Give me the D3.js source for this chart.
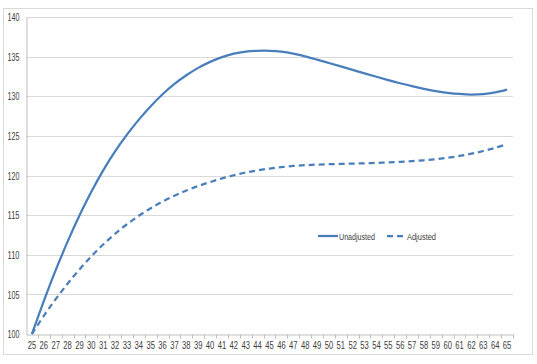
<!DOCTYPE html>
<html><head><meta charset="utf-8">
<script src="https://cdn.jsdelivr.net/npm/d3@7"></script>
<style>html,body{margin:0;padding:0;background:#fff;}svg{display:block;}</style>
</head><body><div id="chart"></div>
<script>
const ages = d3.range(25, 66).map(String);
const unadjusted = [100, 104.15, 108.05, 111.65, 114.95, 117.95, 120.65, 123.05, 125.15, 127.05,
  128.75, 130.25, 131.55, 132.65, 133.58, 134.34, 134.94, 135.39, 135.64, 135.74,
  135.74, 135.62, 135.37, 135.02, 134.62, 134.2, 133.77, 133.33, 132.89, 132.46,
  132.04, 131.64, 131.27, 130.94, 130.66, 130.44, 130.29, 130.22, 130.28, 130.48, 130.83];
const adjusted = [100, 102.3, 104.4, 106.35, 108.15, 109.8, 111.3, 112.65, 113.85, 114.92,
  115.87, 116.71, 117.45, 118.1, 118.67, 119.17, 119.63, 120.03, 120.37, 120.65,
  120.88, 121.06, 121.2, 121.3, 121.37, 121.42, 121.46, 121.5, 121.54, 121.59,
  121.65, 121.72, 121.81, 121.92, 122.06, 122.24, 122.47, 122.75, 123.09, 123.49, 123.96];
const yTicks = [100, 105, 110, 115, 120, 125, 130, 135, 140];
const seriesNames = ["Unadjusted", "Adjusted"];

const W = 537, H = 364;
const m = {left: 26, right: 24, top: 17, bottom: 30};
const color = "#4a7ebb";
const font = "'Liberation Sans',Arial,sans-serif";
const txt = "#404040";

const svg = d3.select("#chart").append("svg").attr("width", W).attr("height", H);
svg.append("rect").attr("x", 3.5).attr("y", 8.5).attr("width", 529).attr("height", 346)
  .attr("fill", "#fff").attr("stroke", "#d9d9d9");

const x = d3.scaleBand().domain(ages).range([m.left, W - m.right]);
const y = d3.scaleLinear().domain([100, 140]).range([H - m.bottom, m.top]);

// gridlines
svg.append("g").selectAll("line").data(yTicks.slice(1)).join("line")
  .attr("x1", m.left).attr("x2", W - m.right)
  .attr("y1", d => Math.round(y(d)) + 0.5).attr("y2", d => Math.round(y(d)) + 0.5)
  .attr("stroke", "#d9d9d9");

// y axis
const yAxis = svg.append("g").attr("transform", `translate(${m.left + 0.5},0.5)`)
  .call(d3.axisLeft(y).tickValues(yTicks).tickSize(0).tickPadding(7));
yAxis.select(".domain").attr("stroke", "#bfbfbf");
yAxis.selectAll("text").attr("font-family", font).attr("font-size", 10).attr("fill", txt)
  .attr("textLength", 12).attr("lengthAdjust", "spacingAndGlyphs");

// x axis
const xAxis = svg.append("g").attr("transform", `translate(0,${Math.round(y(100)) + 0.5})`)
  .call(d3.axisBottom(x).tickSize(0).tickPadding(7));
xAxis.select(".domain").attr("stroke", "#bfbfbf");
xAxis.selectAll("text").attr("font-family", font).attr("font-size", 10).attr("fill", txt)
  .attr("textLength", 8.5).attr("lengthAdjust", "spacingAndGlyphs");
xAxis.append("g").selectAll("line").data(ages.slice(1).concat(["end"])).join("line")
  .attr("x1", d => Math.round(d === "end" ? W - m.right : x(d)) + 0.5)
  .attr("x2", d => Math.round(d === "end" ? W - m.right : x(d)) + 0.5)
  .attr("y1", 0).attr("y2", 4).attr("stroke", "#bfbfbf");

const line = d3.line()
  .x((d, i) => x(ages[i]) + x.bandwidth() / 2)
  .y(d => y(d))
  .curve(d3.curveCatmullRom.alpha(0.5));

svg.append("path").datum(unadjusted).attr("d", line)
  .attr("fill", "none").attr("stroke", color).attr("stroke-width", 2.25);
svg.append("path").datum(adjusted).attr("d", line)
  .attr("fill", "none").attr("stroke", color).attr("stroke-width", 2.25)
  .attr("stroke-dasharray", "6,4");

// legend
const lg = svg.append("g").attr("transform", "translate(318,236)");
lg.append("line").attr("x1", 0).attr("x2", 20).attr("stroke", color).attr("stroke-width", 2.25);
lg.append("text").attr("x", 21).attr("y", 3.5).text(seriesNames[0])
  .attr("font-family", font).attr("font-size", 9).attr("fill", txt)
  .attr("textLength", 36).attr("lengthAdjust", "spacingAndGlyphs");
lg.append("line").attr("x1", 69).attr("x2", 87).attr("stroke", color).attr("stroke-width", 2.25)
  .attr("stroke-dasharray", "6,4");
lg.append("text").attr("x", 89).attr("y", 3.5).text(seriesNames[1])
  .attr("font-family", font).attr("font-size", 9).attr("fill", txt)
  .attr("textLength", 29).attr("lengthAdjust", "spacingAndGlyphs");
</script></body></html>
